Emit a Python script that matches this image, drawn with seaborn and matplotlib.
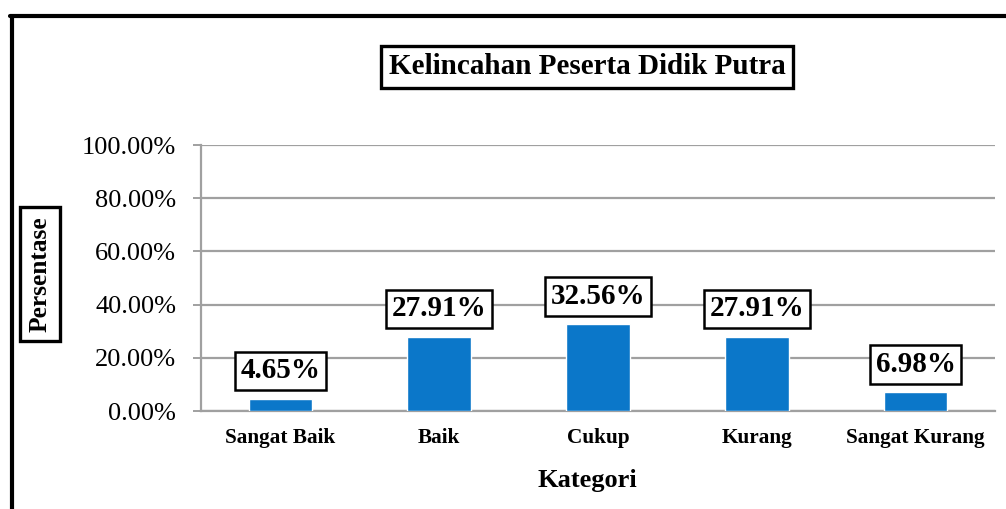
import matplotlib
matplotlib.use("Agg")
import matplotlib.pyplot as plt
from matplotlib.lines import Line2D
from matplotlib.ticker import FuncFormatter
import seaborn as sns
import pandas as pd

categories = ["Sangat Baik", "Baik", "Cukup", "Kurang", "Sangat Kurang"]
values = [4.65, 27.91, 32.56, 27.91, 6.98]
y_ticks = [0, 20, 40, 60, 80, 100]

title = "Kelincahan Peserta Didik Putra"
x_label = "Kategori"
y_label = "Persentase"

sns.set_theme(style="white")
plt.rcParams["font.family"] = ["Liberation Serif", "DejaVu Serif"]
plt.rcParams["text.color"] = "black"

df = pd.DataFrame({"Kategori": categories, "Persentase": values})

fig = plt.figure(figsize=(10.06, 5.09), dpi=100)
ax = fig.add_axes([201 / 1006, 1 - 411 / 509, 794 / 1006, 266 / 509])

sns.barplot(data=df, x="Kategori", y="Persentase", color="#0B77C9",
            width=0.4, saturation=1, ax=ax, zorder=3)

ax.set_ylim(0, 100)
ax.set_yticks(y_ticks)
ax.yaxis.set_major_formatter(FuncFormatter(lambda v, p: f"{v:.2f}%"))
ax.grid(axis="y", color="#a0a0a0", linewidth=1.6, zorder=0)
ax.set_axisbelow(True)
ax.set_xlabel("")
ax.set_ylabel("")

for side in ["top", "right"]:
    ax.spines[side].set_visible(False)
for side in ["left", "bottom"]:
    ax.spines[side].set_color("#a0a0a0")
    ax.spines[side].set_linewidth(1.6)

ax.tick_params(axis="y", which="major", direction="out", length=6, width=1.4,
               color="#a0a0a0", pad=12, labelsize=19, labelcolor="black", left=True)
ax.tick_params(axis="x", length=0, pad=12, labelsize=15.3, labelcolor="black")
for lbl in ax.get_xticklabels():
    lbl.set_fontweight("bold")

# value labels in boxes
for i, v in enumerate(values):
    ax.annotate(f"{v:.2f}%", xy=(i, v), xytext=(0, 20), textcoords="offset points",
                ha="center", va="center", fontsize=21, fontweight="bold", color="black",
                bbox=dict(boxstyle="square,pad=0.2", facecolor="white",
                          edgecolor="black", linewidth=1.8), zorder=5)

# title and axis titles
fig.text(587 / 1006, 1 - 67 / 509, title, ha="center", va="center",
         fontsize=21, fontweight="bold", color="black",
         bbox=dict(boxstyle="square,pad=0.25", facecolor="white",
                   edgecolor="black", linewidth=2.4))
fig.text(40 / 1006, 1 - 274 / 509, y_label, ha="center", va="center",
         rotation=90, fontsize=18.3, fontweight="bold", color="black",
         bbox=dict(boxstyle="square,pad=0.35", facecolor="white",
                   edgecolor="black", linewidth=2.4))
fig.text(587 / 1006, 1 - 481 / 509, x_label, ha="center", va="center",
         fontsize=19, fontweight="bold", color="black")

# outer frame (only left and top are visible)
fig.add_artist(Line2D([12 / 1006, 12 / 1006], [0, 1 - 16 / 509],
                      color="black", linewidth=3, transform=fig.transFigure))
fig.add_artist(Line2D([10 / 1006, 1], [1 - 16 / 509, 1 - 16 / 509],
                      color="black", linewidth=3, transform=fig.transFigure))

fig.savefig("out.png", dpi=100)
